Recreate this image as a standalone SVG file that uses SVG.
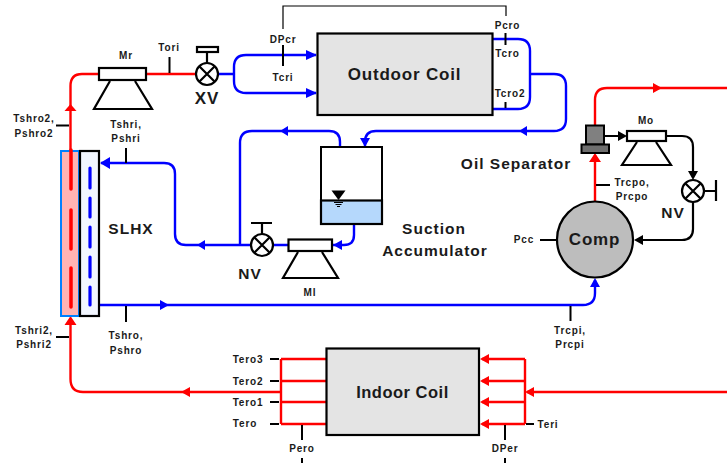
<svg xmlns="http://www.w3.org/2000/svg" width="727" height="463" viewBox="0 0 727 463">
<style>
text{font-family:"Liberation Sans",Arial,sans-serif;font-weight:bold;fill:#1a1a1a;text-anchor:middle;dominant-baseline:central}
.l{font-size:10px;letter-spacing:.85px}
.m{font-size:15.500px;letter-spacing:1px}
.h{font-size:17px;letter-spacing:.8px}
.r{fill:none;stroke:#f00;stroke-width:2.4}
.b{fill:none;stroke:#00f;stroke-width:2.4}
.k{fill:none;stroke:#000;stroke-width:2.2}
.t{fill:none;stroke:#000;stroke-width:2}
.s{fill:none;stroke:#000;stroke-width:1.2}
.box{fill:#e4e4e4;stroke:#000;stroke-width:2.2}
.w{fill:#fff;stroke:#000;stroke-width:2.2}
.fr{fill:#f00}.fb{fill:#00f}.fk{fill:#000}
</style>
<g id="connectors">
<path class="r" d="M70.500 150V86Q70.500 74 82 74H99M146 74H197"/>
<path class="fr" d="M70.500 104L76.500 111H64.500Z"/>
<path class="b" d="M218 74H234M316 55H246Q234 55 234 67V81Q234 93 246 93H316"/>
<path class="fb" d="M317 55L306 50V60ZM317 93L306 88V98Z"/>
<path class="b" d="M492 39H518Q530 39 530 51V97Q530 109 518 109H492M530 74H554Q566 74 566 86V119Q566 131 554 131H376Q365 131 365 142V147"/>
<path class="fb" d="M519 131L527 126V136ZM365 147L360 138H370Z"/>
<path class="b" d="M340 147V142Q340 131 329 131H252Q240 131 240 143V245M251 245H186Q175 245 175 234V174Q175 163 164 163H101"/>
<path class="fb" d="M280 131L288 126V136ZM197 245L205 240V250ZM100 163L110 157V169Z"/>
<path class="b" d="M354 224V235Q354 245 344 245H333M273 245H288"/>
<path class="fb" d="M333 245L342 240V250Z"/>
<path class="b" d="M100 305H583Q595 305 595 293V280"/>
<path class="fb" d="M169 305L160 300V310ZM595 278L590 287H600Z"/>
<path class="r" d="M70.500 318V379Q70.500 392 83 392H281M281 359H326M281 381H326M281 402H326M281 424H326M281 359V424"/>
<path class="fr" d="M70.500 316L76.500 325H64.500ZM181 392L190 387V397Z"/>
<path class="r" d="M482 359H525M482 381H525M482 402H525M482 424H525M525 359V424M527 392H727"/>
<path class="fr" d="M480 359L489 354V364ZM480 381L489 376V386ZM480 402L489 397V407ZM480 424L489 419V429ZM525 392L534 387V397Z"/>
<path class="r" d="M595 201V155M595 125V100Q595 88 607 88H727"/>
<path class="fr" d="M595 153L601 162H589ZM662 88L653 83V93Z"/>
<path class="k" d="M604 136H620M666 136H682Q693 136 693 147V172M693 202V229Q693 240 682 240H642"/>
<path class="fk" d="M627 136L618 131V141ZM693 180L688 171H698ZM634 240L643 235V245Z"/>
<g class="t">
<path d="M169.500 57V73M283 45V66M505.500 33V45M505.500 102V108M56 125.500H69M56 337H69M126 148V163M126 306V322M570.500 306V321M596 185H610M540 240H556M270 359H279M270 381H279M270 402H279M270 424H279M526 424H534M302 425V440M505 425V440M302 458V463M505 458V463"/>
</g>
<path class="s" d="M283 29V6H506V16"/>
</g>
<g id="slhx">
<rect x="61" y="151" width="18" height="165" fill="#ffb3b3" stroke="#0080ff" stroke-width="2"/>
<rect x="80" y="151" width="19" height="165" fill="#f2f6ff" stroke="#000" stroke-width="2.200"/>
<path d="M71 150V189M71 210V249M71 268V307" fill="none" stroke="#f00" stroke-width="3.500" stroke-linecap="round"/>
<path d="M90 168V188M90 198V217M90 227V247M90 257V277M90 287V305" fill="none" stroke="#00f" stroke-width="3.200" stroke-linecap="round"/>
<text class="m" x="131" y="228">SLHX</text>
</g>
<g id="mr">
<path class="k" fill="#fff" d="M110 81L94 109H152L135 81"/>
<rect class="w" x="99" y="68" width="47" height="12"/>
<text class="l" x="126" y="55">Mr</text>
</g>
<g id="xv">
<path class="k" d="M207 63V52"/>
<rect class="w" x="197" y="47" width="21" height="5"/>
<circle class="w" cx="207" cy="74" r="11"/>
<path class="k" d="M199.500 66.500L214.500 81.500M214.500 66.500L199.500 81.500"/>
<text class="h" x="207" y="98">XV</text>
</g>
<g id="outdoor-coil">
<rect class="box" x="317.500" y="33.500" width="175" height="81.500"/>
<text class="h" x="404.500" y="74">Outdoor Coil</text>
</g>
<g id="accumulator">
<rect x="321" y="147" width="61" height="54" fill="#fff" stroke="#000" stroke-width="2"/>
<rect x="321" y="200.500" width="61" height="23.500" fill="#b5d8fc" stroke="#000" stroke-width="2.200"/>
<path class="fk" d="M331.500 190.500H345.500L338.500 200Z"/>
<path d="M334 202.500H343M335.500 204.500H341.500M337 206.500H340" fill="none" stroke="#000"/>
<text class="m" x="434" y="228">Suction</text>
<text class="m" x="435" y="250">Accumulator</text>
</g>
<g id="nv-l">
<path class="k" d="M262 234V223M251 223H272"/>
<circle class="w" cx="262" cy="245" r="11"/>
<path class="k" d="M254.500 237.500L269.500 252.500M269.500 237.500L254.500 252.500"/>
<text class="m" x="250" y="273">NV</text>
</g>
<g id="ml">
<path class="k" fill="#fff" d="M298 252L283 278H338L322 252"/>
<rect class="w" x="288.500" y="239.500" width="43.500" height="11.500"/>
<text class="l" x="310" y="292">Ml</text>
</g>
<g id="oil-separator">
<rect x="586" y="125.500" width="18" height="19" fill="#808080" stroke="#000" stroke-width="2"/>
<rect x="581.500" y="144.500" width="27.500" height="8.500" fill="#6e6e6e" stroke="#000" stroke-width="2"/>
<text class="m" x="516" y="163">Oil Separator</text>
</g>
<g id="mo">
<path class="k" fill="#fff" d="M637 142L622 165H671L656 142"/>
<rect class="w" x="627" y="131" width="39" height="10"/>
<text class="l" x="646" y="120">Mo</text>
</g>
<g id="nv-r">
<path class="k" d="M704 191H716M716 180V201"/>
<circle class="w" cx="693" cy="191" r="11"/>
<path class="k" d="M685.500 183.500L700.500 198.500M700.500 183.500L685.500 198.500"/>
<text class="m" x="673" y="212">NV</text>
</g>
<g id="comp">
<circle cx="595" cy="239.500" r="38" fill="#bdbdbd" stroke="#000" stroke-width="2.200"/>
<text class="h" x="594.500" y="239">Comp</text>
</g>
<g id="indoor-coil">
<rect class="box" x="326.500" y="348.500" width="152.500" height="86.500"/>
<text class="h" style="letter-spacing:.5px;font-size:16.500px" x="402.500" y="392">Indoor Coil</text>
</g>
<g id="labels">
<text class="l" x="169" y="47">Tori</text>
<text class="l" x="283" y="39">DPcr</text>
<text class="l" x="283" y="77">Tcri</text>
<text class="l" x="507.500" y="25">Pcro</text>
<text class="l" x="507.500" y="53">Tcro</text>
<text class="l" x="510" y="93">Tcro2</text>
<text class="l" x="34" y="118">Tshro2,</text>
<text class="l" x="34" y="133">Pshro2</text>
<text class="l" x="126" y="124">Tshri,</text>
<text class="l" x="126" y="138">Pshri</text>
<text class="l" x="34" y="330">Tshri2,</text>
<text class="l" x="34" y="344">Pshri2</text>
<text class="l" x="126" y="335">Tshro,</text>
<text class="l" x="126" y="350">Pshro</text>
<text class="l" x="570" y="330">Trcpi,</text>
<text class="l" x="570" y="344">Prcpi</text>
<text class="l" x="632" y="182">Trcpo,</text>
<text class="l" x="632" y="196">Prcpo</text>
<text class="l" x="524" y="239">Pcc</text>
<text class="l" x="248" y="359">Tero3</text>
<text class="l" x="248" y="381">Tero2</text>
<text class="l" x="248" y="402">Tero1</text>
<text class="l" x="245" y="423">Tero</text>
<text class="l" x="548" y="424">Teri</text>
<text class="l" x="302" y="448">Pero</text>
<text class="l" x="505" y="448">DPer</text>
</g>
</svg>
